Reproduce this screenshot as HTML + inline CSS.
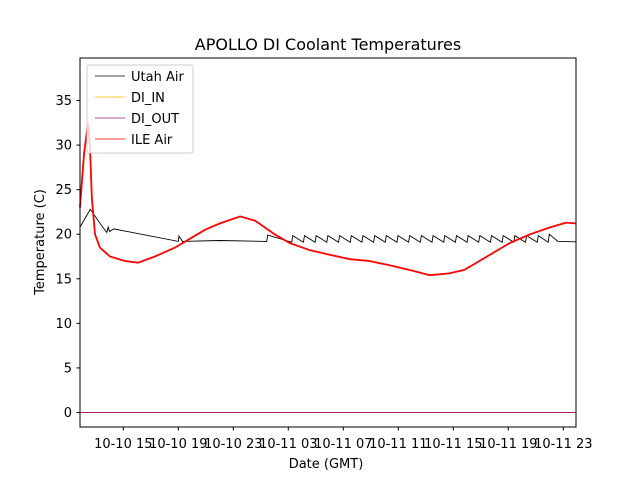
<!DOCTYPE html>
<html><head><meta charset="utf-8"><style>body{margin:0;background:#fff}svg{font-family:"DejaVu Sans","Liberation Sans",sans-serif}</style></head>
<body>
<svg id="c" width="640" height="480">
<rect width="640" height="480" fill="#fff"/>
<text x="328" y="50" font-size="16" text-anchor="middle">APOLLO DI Coolant Temperatures</text>
<g id="plot"></g>
<rect x="80" y="58" width="496" height="369" fill="none" stroke="#000" stroke-width="1"/>
<text x="326" y="468" font-size="13" text-anchor="middle">Date (GMT)</text>
<text transform="translate(44,242) rotate(-90)" font-size="13" text-anchor="middle">Temperature (C)</text>
<g>
<rect x="87" y="65" width="106" height="88" rx="2" fill="#fff" fill-opacity="0.8" stroke="#ccc"/>
<line x1="95" y1="76" x2="125" y2="76" stroke="#000" stroke-width="0.8"/><text x="131" y="81" font-size="13">Utah Air</text>
<line x1="95" y1="97" x2="125" y2="97" stroke="#ffb000" stroke-width="0.8"/><text x="131" y="102" font-size="13">DI_IN</text>
<line x1="95" y1="118" x2="125" y2="118" stroke="#8b1a8b" stroke-width="0.8"/><text x="131" y="123" font-size="13">DI_OUT</text>
<line x1="95" y1="139" x2="125" y2="139" stroke="#f00" stroke-width="0.8"/><text x="131" y="144" font-size="13">ILE Air</text>
</g>
</svg>
<script>
// hours since 10-10 12:00 GMT
const yTicks=[0,5,10,15,20,25,30,35];
const xTickHours=[3,7,11,15,19,23,27,31,35];
const xTickLabels=["10-10 15","10-10 19","10-10 23","10-11 03","10-11 07","10-11 11","10-11 15","10-11 19","10-11 23"];
const utahT=[-0.15,0.6,1.5,1.8,1.9,2.0,2.3,7.0,7.05,7.3,10,13.43,13.5,15.25,15.33,16.10,16.18,16.95,17.03,17.80,17.88,18.65,18.73,19.50,19.58,20.35,20.43,21.20,21.28,22.05,22.13,22.90,22.98,23.75,23.83,24.60,24.68,25.45,25.53,26.30,26.38,27.15,27.23,28.00,28.08,28.85,28.93,29.70,29.78,30.55,30.63,31.40,31.48,32.25,32.33,33.10,33.18,33.9,33.98,34.6,35.95];
const utahV=[20.8,22.8,20.8,20.2,20.8,20.3,20.6,19.2,19.8,19.2,19.3,19.2,19.9,19.1,19.85,19.1,19.85,19.1,19.85,19.1,19.85,19.1,19.85,19.1,19.85,19.1,19.85,19.1,19.85,19.1,19.85,19.1,19.85,19.1,19.85,19.1,19.85,19.1,19.85,19.1,19.85,19.1,19.85,19.1,19.85,19.1,19.85,19.1,19.85,19.1,19.85,19.1,19.85,19.1,19.85,19.1,19.85,19.1,20.0,19.2,19.15];
const ileT=[-0.15,0.14,0.43,0.57,0.72,0.94,1.3,2.03,3.12,4.07,5.3,6.76,7.85,8.94,10.0,11.5,12.6,14.0,15.1,16.6,18.0,19.5,20.9,22.4,23.8,25.3,26.7,27.8,28.9,30.0,31.1,32.6,34.1,35.2,35.95];
const ileV=[23,29,32.5,30,24,20,18.5,17.5,17.0,16.8,17.5,18.5,19.5,20.5,21.2,22.0,21.5,20.0,19.0,18.2,17.7,17.2,17.0,16.5,16.0,15.4,15.6,16.0,17.0,18.0,19.0,20.0,20.8,21.3,21.2];
const diInV=[0,0];
const diOutV=[0,0];
const edgeT=[-0.15,35.95];
const X=h=>123.3+(h-3)*13.75;
const Y=v=>412.5-v*8.914;
const NS="http://www.w3.org/2000/svg";
const plot=document.getElementById('plot');
function mk(t,a){const e=document.createElementNS(NS,t);for(const k in a)e.setAttribute(k,a[k]);plot.appendChild(e);return e;}
yTicks.forEach(v=>{
 const l=mk('line',{x1:76.5,x2:80,y1:Y(v),y2:Y(v),stroke:'#000'});
 
 
 const t=mk('text',{x:72,y:Y(v)+4.5,'font-size':13,'text-anchor':'end'});t.textContent=v;
 
 
});
xTickHours.forEach((h,i)=>{
 const l=mk('line',{x1:X(h),x2:X(h),y1:427,y2:430.5,stroke:'#000'});
 
 
 const t=mk('text',{x:X(h),y:448,'font-size':13,'text-anchor':'middle'});t.textContent=xTickLabels[i];
 
 
});
function line(ts,vs,col,w,name){
 const p=mk('polyline',{points:ts.map((t,i)=>X(t).toFixed(1)+','+Y(vs[i]).toFixed(1)).join(' '),fill:'none',stroke:col,'stroke-width':w});
 
 
}
line(edgeT,diInV,'#ffb000',1,'di-in-line');
line(edgeT,diOutV,'#a8246a',1,'di-out-line');
line(utahT,utahV,'#000',0.9,'utah-air-line');
line(ileT,ileV,'#f00',1.8,'ile-air-line');
</script>
</body></html>
